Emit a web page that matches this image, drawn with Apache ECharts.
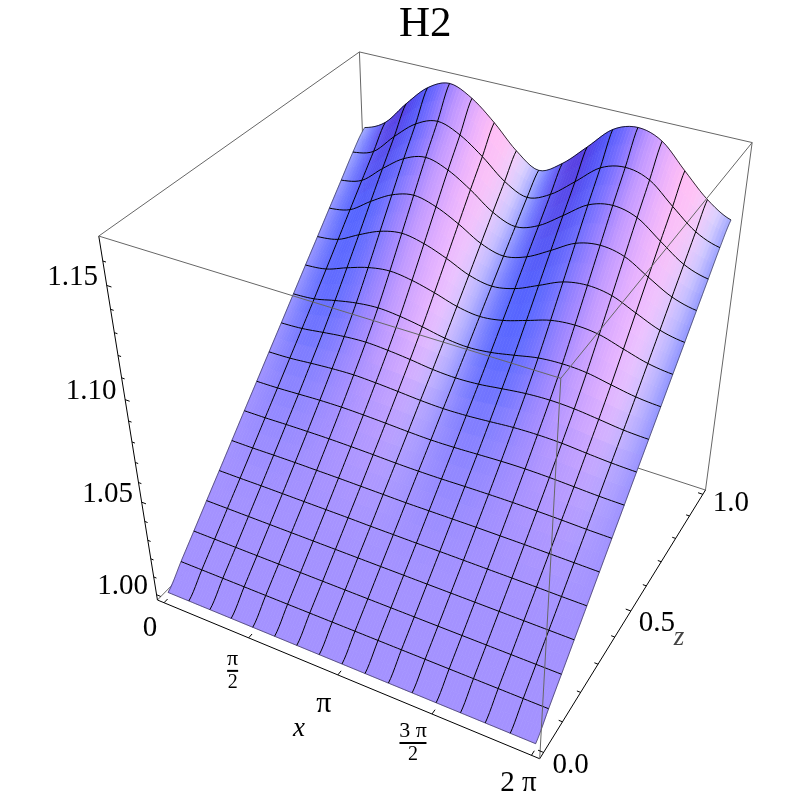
<!DOCTYPE html>
<html>
<head>
<meta charset="utf-8">
<style>html,body{margin:0;padding:0;background:#fff}#c{width:800px;height:800px}</style>
<script src="https://cdn.jsdelivr.net/npm/echarts@6/dist/echarts.min.js"></script>
</head>
<body>
<div id="c"></div>
<script>
// ---------- data ----------
const chartTitle = 'H2';
// heights[j][i]: j = z row (0..1 in 16 steps), i = x column (0..2pi in 16 steps)
const heights = [
[1.000,1.000,1.000,1.000,1.000,1.000,1.000,1.000,1.000,1.000,1.000,1.000,1.000,1.000,1.000,1.000,1.000],
[1.0087,1.0087,1.0087,1.0087,1.0087,1.0087,1.0087,1.0087,1.0087,1.0087,1.0087,1.0087,1.0087,1.0087,1.0087,1.0087,1.0087],
[1.0173,1.0173,1.0173,1.0173,1.0173,1.0173,1.0173,1.0173,1.0173,1.0173,1.0173,1.0173,1.0173,1.0173,1.0173,1.0173,1.0173],
[1.026,1.026,1.026,1.026,1.026,1.026,1.026,1.026,1.026,1.026,1.026,1.026,1.026,1.026,1.026,1.026,1.026],
[1.0346,1.0346,1.0347,1.0347,1.0347,1.0347,1.0347,1.0346,1.0346,1.0346,1.0347,1.0347,1.0347,1.0347,1.0347,1.0346,1.0346],
[1.0433,1.0433,1.0435,1.0436,1.0436,1.0436,1.0435,1.0434,1.0433,1.0434,1.0435,1.0436,1.0436,1.0436,1.0435,1.0434,1.0433],
[1.052,1.0521,1.0524,1.0526,1.0527,1.0526,1.0524,1.0521,1.052,1.0521,1.0524,1.0526,1.0527,1.0526,1.0524,1.0521,1.052],
[1.0606,1.0608,1.0613,1.0618,1.062,1.0618,1.0614,1.0609,1.0606,1.0608,1.0613,1.0618,1.062,1.0618,1.0613,1.0608,1.0606],
[1.0693,1.0696,1.0705,1.0713,1.0717,1.0713,1.0706,1.0698,1.0694,1.0697,1.0705,1.0714,1.0717,1.0714,1.0705,1.0697,1.0693],
[1.0779,1.0784,1.0798,1.0811,1.0817,1.0811,1.08,1.0786,1.078,1.0785,1.0799,1.0812,1.0817,1.0812,1.0799,1.0785,1.0779],
[1.0866,1.0873,1.0897,1.0917,1.0926,1.0917,1.0899,1.0877,1.0867,1.0876,1.0897,1.0919,1.0926,1.0919,1.0897,1.0876,1.0866],
[1.0953,1.0964,1.1001,1.1033,1.1047,1.1033,1.1005,1.0971,1.0955,1.0969,1.1002,1.1036,1.1047,1.1036,1.1002,1.0969,1.0953],
[1.1039,1.1055,1.1107,1.1153,1.1173,1.1153,1.1113,1.1064,1.1042,1.1062,1.1109,1.1157,1.1173,1.1157,1.1109,1.1062,1.1039],
[1.1126,1.1147,1.1215,1.1274,1.13,1.1274,1.1222,1.1159,1.1129,1.1156,1.1216,1.1279,1.13,1.1279,1.1216,1.1156,1.1126],
[1.1212,1.1238,1.1321,1.1394,1.1426,1.1394,1.133,1.1253,1.1214,1.1248,1.1323,1.14,1.1426,1.14,1.1323,1.1248,1.1212],
[1.1299,1.1328,1.1424,1.1507,1.1544,1.1507,1.1434,1.1346,1.1299,1.1341,1.1426,1.1515,1.1544,1.1515,1.1426,1.1341,1.1299],
[1.137,1.1419,1.153,1.1627,1.167,1.1627,1.1542,1.1439,1.1375,1.1433,1.1533,1.1636,1.167,1.1636,1.1533,1.1433,1.137]
];
const xTickValues = [0, 0.25, 0.5, 0.75, 1];       // fraction of 2 pi
const zTickMajor = [0, 0.5, 1];
const zTickMinor = [0.1, 0.2, 0.3, 0.4, 0.6, 0.7, 0.8, 0.9];
const hTickMajor = [1.00, 1.05, 1.10, 1.15];
const hTickMinor = [1.01,1.02,1.03,1.04,1.06,1.07,1.08,1.09,1.11,1.12,1.13,1.14,1.16];
const hTickLabels = ['1.00','1.05','1.10','1.15'];
const zTickLabels = ['0.0','0.5','1.0'];
const H_MIN = 0.997, H_MAX = 1.170;

// ---------- camera: where box landmarks sit on the page ----------
const P = 0.0192, S = 0.9615; // plot-range padding inside the box
const cam = [
 [0,0,0,157.5,600],[1,0,0,539,760],[1,1,0,705,490],
 [0,0,1,100,236],[1,0,1,560.5,378],[1,1,1,752,142],[0,1,1,360,52],
 [P+S*.25,0,0,250,637],[P+S*.5,0,0,339,674],[P+S*.75,0,0,432.7,713],
 [1,P+S*.5,0,631,612],
 [0,0,(1.05-H_MIN)/(H_MAX-H_MIN),139.3,502.7],[0,0,(1.10-H_MIN)/(H_MAX-H_MIN),123.3,400],[0,0,(1.15-H_MIN)/(H_MAX-H_MIN),107.3,286]
];
function solveCam(){
  const n=11, M=[...Array(n)].map(()=>Array(n+1).fill(0));
  const add=(r,t)=>{for(let a=0;a<n;a++){for(let b=0;b<n;b++)M[a][b]+=r[a]*r[b];M[a][n]+=r[a]*t;}};
  cam.forEach(([u,v,w,sx,sy])=>{
    add([u,v,w,1,0,0,0,0,-sx*u,-sx*v,-sx*w],sx);
    add([0,0,0,0,u,v,w,1,-sy*u,-sy*v,-sy*w],sy);
  });
  for(let c=0;c<n;c++){
    let p=c;for(let r=c+1;r<n;r++)if(Math.abs(M[r][c])>Math.abs(M[p][c]))p=r;
    [M[c],M[p]]=[M[p],M[c]];
    for(let r=0;r<n;r++){if(r===c)continue;const f=M[r][c]/M[c][c];for(let k=c;k<=n;k++)M[r][k]-=f*M[c][k];}
  }
  return M.map((row,i)=>row[n]/row[i]);
}
const q = solveCam();
function project(u,v,w){
  const d=q[8]*u+q[9]*v+q[10]*w+1;
  return [(q[0]*u+q[1]*v+q[2]*w+q[3])/d,(q[4]*u+q[5]*v+q[6]*w+q[7])/d];
}
const hw = h => (h-H_MIN)/(H_MAX-H_MIN);

// ---------- smooth surface drawing (spline through the read heights) ----------
const N = 16;
function cr(a,b,c,d,t){return 0.5*((2*b)+(-a+c)*t+(2*a-5*b+4*c-d)*t*t+(-a+3*b-3*c+d)*t*t*t);}
const cl=(x,a,b)=>Math.max(a,Math.min(b,x));
function rowAt(j,fi){
  const i=Math.min(Math.floor(fi),N-1),t=fi-i,r=heights[j];
  return cr(r[cl(i-1,0,N)],r[i],r[i+1],r[cl(i+2,0,N)],t);
}
function surf(fi,fj){
  const j=Math.min(Math.floor(fj),N-1),t=fj-j;
  return cr(rowAt(cl(j-1,0,N),fi),rowAt(j,fi),rowAt(j+1,fi),rowAt(cl(j+2,0,N),fi),t);
}
function surfPoint(fi,fj){ return project(P+S*fi/N,P+S*fj/N,hw(surf(fi,fj))); }

// ---------- shading ramps (one wave, every half cell) ----------
const flatColor=[164,146,255];
const midShade=[[150,150,255],[115,125,255],[90,105,255],[85,100,255],[90,105,255],[105,110,255],[125,120,255],[150,130,255],[170,140,255],[195,155,255],[210,165,255],[225,175,255],[235,185,255],[235,195,255],[215,195,255],[185,180,255],[145,150,255]];
const farShade=[[165,175,255],[120,125,255],[100,85,240],[90,65,225],[85,60,225],[80,75,240],[85,90,250],[110,105,255],[150,125,255],[190,150,255],[215,165,255],[240,180,250],[255,190,245],[255,195,245],[245,205,250],[220,210,255],[165,170,255]];
const shadeStrength=[0,0,0,0,.03,.08,.14,.22,.33,.5,.62,.68,.72,.78,.86,.93,1];
const MID_K=0.7, FIRST_WAVE_GAIN=0.86;
function mix(a,b,t){return [a[0]+(b[0]-a[0])*t,a[1]+(b[1]-a[1])*t,a[2]+(b[2]-a[2])*t];}
function ramp(arr,fi){
  const p=(fi%8)*2,i=Math.min(Math.floor(p),15);
  return mix(arr[i],arr[i+1],p-i);
}
function shade(fi,fj){
  const j=Math.min(Math.floor(fj),N-1);
  let k=shadeStrength[j]+(shadeStrength[j+1]-shadeStrength[j])*(fj-j);
  if(fi<8){const g=FIRST_WAVE_GAIN+(1-FIRST_WAVE_GAIN)*fi/8;k=Math.min(k,k*g+(1-g)*Math.pow(k,6));}
  const x=fi>=16?8:fi;
  const c=k<MID_K?mix(flatColor,ramp(midShade,x),k/MID_K):mix(ramp(midShade,x),ramp(farShade,x),(k-MID_K)/(1-MID_K));
  return 'rgb('+c.map(Math.round).join(',')+')';
}

// ---------- ECharts ----------
const SUBX=8,SUBZ=2,LINE_SUB=6;
const cells=[];
for(let j=N-1;j>=0;j--)for(let i=0;i<N;i++)cells.push([i,j]);
const GREY='#666666',BLACK='#000000',SERIF='"Liberation Serif","Times New Roman",serif';

function seg(api,a,b,color,w){
  const p=api.coord(a),r=api.coord(b);
  return {type:'line',shape:{x1:p[0],y1:p[1],x2:r[0],y2:r[1]},style:{stroke:color,lineWidth:w}};
}
function layer(name,items,render){
  return {type:'custom',name,coordinateSystem:'cartesian2d',silent:true,animation:false,clip:false,progressive:0,
    encode:{x:0,y:1},data:items,renderItem:render};
}
const boxU={A:[0,0,0],B:[1,0,0],C:[1,1,0],H:[0,1,0],D:[0,0,1],E:[1,0,1],F:[1,1,1],G:[0,1,1]};
const backEdges=[['A','H'],['H','C'],['H','G']];
const frontEdges=[['D','E'],['D','G'],['G','F'],['E','F'],['F','C'],['B','E']];
const axisEdges=[['A','D'],['A','B'],['B','C']];
function edgeLayer(name,edges,color,w){
  return layer(name,edges.map((e,i)=>[i,0]),(p,api)=>{
    const e=edges[p.dataIndex];
    return seg(api,project(...boxU[e[0]]),project(...boxU[e[1]]),color,w);
  });
}
const meshLines=[];
for(let k=0;k<=N;k++){meshLines.push(['x',k]);meshLines.push(['z',k]);}
const ticks=[];
xTickValues.forEach(x=>ticks.push([[P+S*x,0,0],[P+S*x,0.014,0]]));
zTickMajor.forEach(z=>ticks.push([[1,P+S*z,0],[0.987,P+S*z,0]]));
zTickMinor.forEach(z=>ticks.push([[1,P+S*z,0],[0.991,P+S*z,0]]));
hTickMajor.forEach(h=>ticks.push([[0,0,hw(h)],[0.012,0,hw(h)]]));
hTickMinor.forEach(h=>ticks.push([[0,0,hw(h)],[0.008,0,hw(h)]]));

const labels=[];
hTickMajor.forEach((h,i)=>labels.push({at:[0,0,hw(h)],dx:-34,dy:-8,text:hTickLabels[i],font:'29px '+SERIF}));
zTickMajor.forEach((z,i)=>labels.push({at:[1,P+S*z,0],dx:[27,26,28][i],dy:[13,12,9][i],text:zTickLabels[i],font:'29px '+SERIF}));
const xFrac=[
 {v:0,dx:-14,dy:26,text:'0'},
 {v:.25,dx:-16,dy:33,num:'π',den:'2',bar:10},
 {v:.5,dx:-14,dy:29,text:'π',size:30},
 {v:.75,dx:-19,dy:29,num:'3 π',den:'2',bar:26},
 {v:1,dx:-13,dy:28,text:'2 π'}
];
function textEl(x,y,t,font,fill){
  return {type:'text',style:{text:t,x,y,font,fill:fill||'#000',align:'center',verticalAlign:'middle'}};
}
const page = layer('labels',[[0,0]],(p,api)=>{
  const kids=[];
  labels.forEach(l=>{const c=api.coord(project(...l.at));kids.push(textEl(c[0]+l.dx,c[1]+l.dy,l.text,l.font));});
  xFrac.forEach(l=>{
    const c=api.coord(project(P+S*l.v,0,0)),x=c[0]+l.dx,y=c[1]+l.dy;
    if(l.text){kids.push(textEl(x,y,l.text,(l.size||29)+'px '+SERIF));return;}
    kids.push(textEl(x,y-12,l.num,'22px '+SERIF));
    kids.push({type:'rect',shape:{x:x-l.bar/2-.5,y:y-1,width:l.bar+1,height:2},style:{fill:'#000'}});
    kids.push(textEl(x,y+12,l.den,'20px '+SERIF));
  });
  const xl=api.coord([299,729]),zl=api.coord([679,638]);
  kids.push(textEl(xl[0],xl[1],'x','italic 27px '+SERIF));
  kids.push(textEl(zl[0],zl[1],'z','italic 27px '+SERIF,'#444'));
  return {type:'group',children:kids};
});

const option={
  animation:false,
  title:{text:chartTitle,left:399,top:3,padding:0,textStyle:{fontFamily:SERIF,fontSize:43,fontWeight:'normal',color:'#000'}},
  grid:{left:0,right:0,top:0,bottom:0},
  xAxis:{type:'value',min:0,max:800,show:false},
  yAxis:{type:'value',min:0,max:800,inverse:true,show:false},
  series:[
    edgeLayer('back',backEdges,GREY,1),
    edgeLayer('axes',axisEdges,BLACK,1),
    layer('surface',cells,(p,api)=>{
      const [ci,cj]=cells[p.dataIndex],kids=[];
      for(let a=0;a<SUBX;a++)for(let b=0;b<SUBZ;b++){
        const i0=ci+a/SUBX,i1=ci+(a+1)/SUBX,j0=cj+b/SUBZ,j1=cj+(b+1)/SUBZ;
        const pts=[[i0,j0],[i1,j0],[i1,j1],[i0,j1]].map(v=>api.coord(surfPoint(v[0],v[1])));
        const col=shade((i0+i1)/2,(j0+j1)/2);
        kids.push({type:'polygon',shape:{points:pts},style:{fill:col,stroke:col,lineWidth:.7}});
      }
      return {type:'group',children:kids};
    }),
    layer('mesh',meshLines,(p,api)=>{
      const [dir,k]=meshLines[p.dataIndex],pts=[];
      for(let s=0;s<=N*LINE_SUB;s++){
        const t=s/LINE_SUB;
        pts.push(api.coord(dir==='x'?surfPoint(t,k):surfPoint(k,t)));
      }
      const edge=k===0||k===N;
      return {type:'polyline',shape:{points:pts},style:{fill:null,stroke:BLACK,lineWidth:edge?.8:1,opacity:edge&&!(dir==='x'&&k===N)?.6:1}};
    }),
    edgeLayer('front',frontEdges,GREY,1),
    layer('ticks',ticks,(p,api)=>{
      const t=ticks[p.dataIndex];
      return seg(api,project(...t[0]),project(...t[1]),BLACK,1);
    }),
    page
  ]
};
const chart=echarts.init(document.getElementById('c'),null,{renderer:'canvas',width:800,height:800});
chart.setOption(option);
</script>
</body>
</html>
